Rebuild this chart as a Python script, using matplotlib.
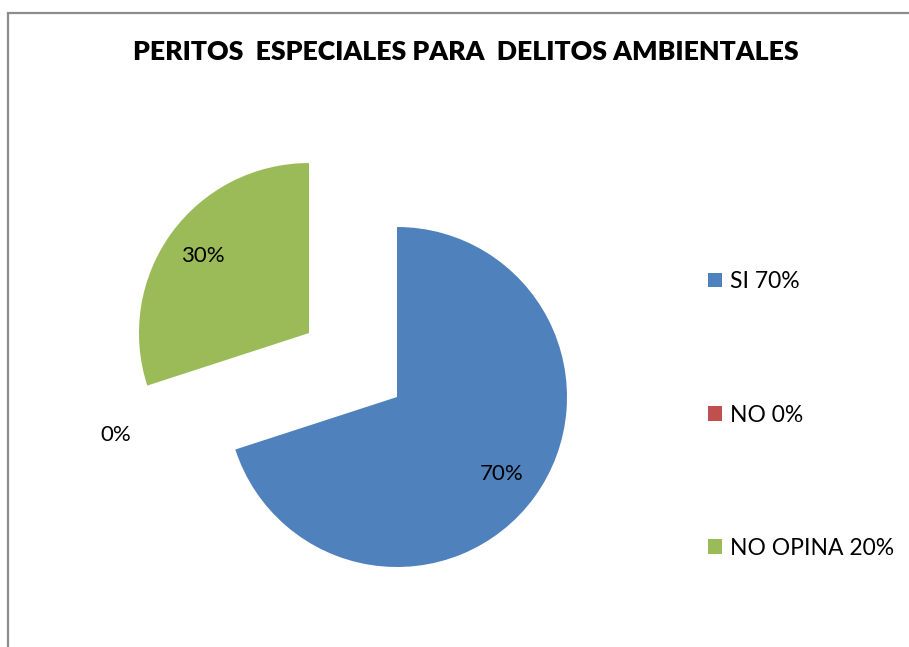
import matplotlib
matplotlib.use("Agg")
import matplotlib.pyplot as plt
from matplotlib.patches import Rectangle, Patch

categories = ["SI 70%", "NO 0%", "NO OPINA 20%"]
values = [70, 0, 30]
pct_labels = ["70%", "0%", "30%"]
colors = ["#4F81BD", "#C0504D", "#9BBB59"]
title = "PERITOS  ESPECIALES PARA  DELITOS AMBIENTALES"

plt.rcParams['font.family'] = ['Lato', 'DejaVu Sans']

W, H = 909, 647
fig = plt.figure(figsize=(W / 100, H / 100), dpi=100)

# outer frame
fig.patches.append(Rectangle((8 / W, -0.1), 1.2, (H - 13) / H + 0.1, transform=fig.transFigure,
                             fill=False, edgecolor="#8c8c8c", linewidth=1.6))

ax = fig.add_axes([0, 0, 1, 1])
R = 170.0
cx, cy = 397.0, 397.0

wedges, texts, autotexts = ax.pie(values, colors=colors, startangle=90, counterclock=False,
                                  explode=[0, 0, 0.64], radius=1, center=(0, 0),
                                  autopct=lambda p: "", pctdistance=0.77,
                                  wedgeprops=dict(linewidth=0), frame=True)
ax.axis('off')
ax.set_xlim(-cx / R, (W - cx) / R)
ax.set_ylim(-(H - cy) / R, cy / R)
ax.set_aspect('equal')
for t, s in zip(autotexts, pct_labels):
    t.set_text(s)
    t.set_fontsize(16)
    t.set_color("black")
autotexts[0].set_position((0.615, -0.45))
autotexts[1].set_position((-1.653, -0.226))

fig.text(466 / W, 1 - 52 / H, title, ha='center', va='center', fontsize=19.2, fontweight='heavy')

handles = [Patch(facecolor=c, edgecolor='none') for c in colors]
leg = ax.legend(handles, categories, loc='center left', bbox_to_anchor=(708 / W, 1 - 415 / H),
                bbox_transform=fig.transFigure, frameon=False, fontsize=16.5,
                handlelength=0.6, handleheight=0.6, handletextpad=0.35, labelspacing=4.9,
                borderpad=0, borderaxespad=0)

fig.savefig("out.png", dpi=100)
